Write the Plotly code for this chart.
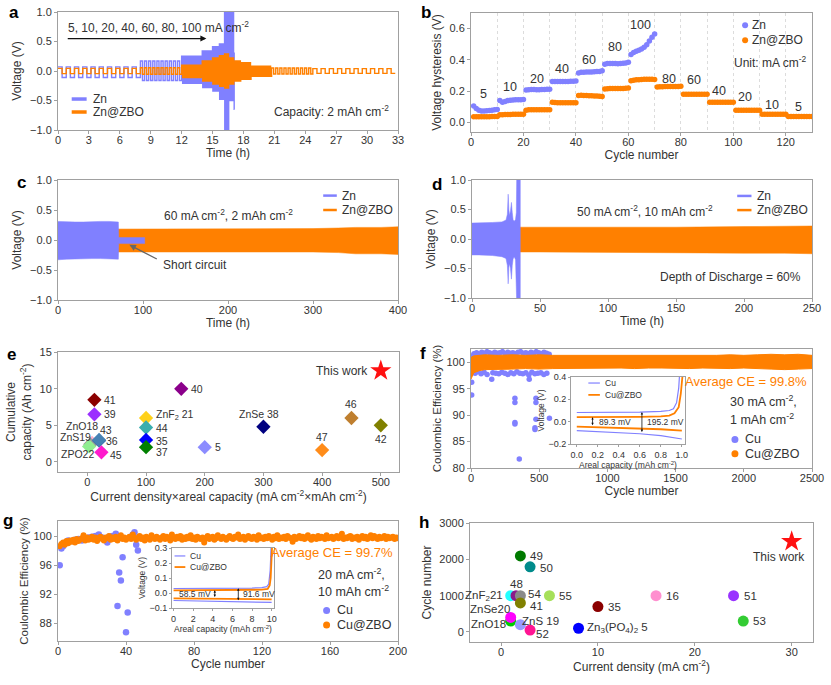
import plotly.graph_objects as go

# ======================= DATA =======================
# (a) rate test of symmetric cells, 2 mAh cm-2, 10 cycles per step
a_currents = [5, 10, 20, 40, 60, 80, 100, 80, 60, 40, 20, 10, 5]        # mA cm-2
a_capacity = 2.0                                                        # mAh cm-2
a_zbo_cycles = [10, 10, 10, 10, 10, 10, 10, 10, 10, 10, 10, 10, 10]
a_zbo_upper = [0.045, 0.055, 0.10, 0.17, 0.22, 0.26, 0.29, 0.22, 0.17, 0.14, 0.08, 0.05, 0.04]
a_zbo_lower = [-0.045, -0.055, -0.11, -0.17, -0.22, -0.26, -0.29, -0.22, -0.17, -0.14, -0.09, -0.05, -0.04]
a_zn_cycles = [10, 10, 10, 10, 10, 10, 10, 10, 1]
a_zn_upper = [0.07, 0.17, 0.25, 0.34, 0.41, 0.46, 1.20, 1.20, 0.30]
a_zn_lower = [-0.11, -0.16, -0.21, -0.28, -0.34, -0.48, -1.05, -0.50, -0.65]

# (b) voltage hysteresis per cycle
b_zn = [0.105, 0.088, 0.078, 0.072, 0.072, 0.074, 0.076, 0.078, 0.080, 0.082,
        0.140, 0.128, 0.134, 0.139, 0.141, 0.143, 0.144, 0.145, 0.145, 0.146,
        0.207, 0.209, 0.210, 0.210, 0.209, 0.209, 0.210, 0.210, 0.211, 0.212,
        0.261, 0.262, 0.262, 0.262, 0.261, 0.262, 0.262, 0.263, 0.263, 0.264,
        0.316, 0.320, 0.321, 0.322, 0.322, 0.323, 0.324, 0.325, 0.326, 0.330,
        0.372, 0.376, 0.377, 0.377, 0.376, 0.375, 0.377, 0.378, 0.380, 0.384,
        0.435, 0.447, 0.455, 0.462, 0.470, 0.480, 0.497, 0.520, 0.545, 0.566]
b_zbo = [0.036, 0.035, 0.035, 0.035, 0.035, 0.036, 0.036, 0.037, 0.037, 0.038,
         0.048, 0.049, 0.050, 0.050, 0.050, 0.051, 0.051, 0.051, 0.052, 0.052,
         0.078, 0.080, 0.080, 0.080, 0.080, 0.080, 0.080, 0.080, 0.081, 0.081,
         0.128, 0.127, 0.126, 0.126, 0.126, 0.126, 0.125, 0.125, 0.125, 0.126,
         0.172, 0.173, 0.172, 0.171, 0.170, 0.170, 0.169, 0.168, 0.167, 0.166,
         0.213, 0.215, 0.216, 0.216, 0.216, 0.216, 0.217, 0.217, 0.218, 0.219,
         0.266, 0.270, 0.272, 0.273, 0.274, 0.275, 0.275, 0.276, 0.276, 0.274,
         0.226, 0.228, 0.228, 0.229, 0.229, 0.229, 0.230, 0.230, 0.230, 0.231,
         0.180, 0.180, 0.179, 0.179, 0.179, 0.179, 0.179, 0.179, 0.179, 0.179,
         0.129, 0.128, 0.128, 0.128, 0.128, 0.128, 0.128, 0.128, 0.128, 0.129,
         0.078, 0.077, 0.077, 0.077, 0.077, 0.077, 0.077, 0.077, 0.077, 0.078,
         0.052, 0.051, 0.051, 0.051, 0.051, 0.051, 0.051, 0.051, 0.051, 0.051,
         0.038, 0.037, 0.037, 0.037, 0.037, 0.037, 0.037, 0.037, 0.037, 0.037]
b_stage_labels = ['5', '10', '20', '40', '60', '80', '100', '80', '60', '40', '20', '10', '5']

# (c) 60 mA cm-2, 2 mAh cm-2 : voltage envelopes
c_zn_t = [0, 10, 20, 30, 40, 50, 60, 71, 71.5, 102]
c_zn_up = [0.31, 0.30, 0.30, 0.30, 0.31, 0.31, 0.31, 0.30, 0.04, 0.04]
c_zn_lo = [-0.33, -0.32, -0.32, -0.31, -0.31, -0.31, -0.31, -0.32, -0.06, -0.06]
c_zbo_t = [0, 50, 100, 150, 200, 250, 300, 330, 350, 380, 400]
c_zbo_up = [0.18, 0.18, 0.18, 0.18, 0.18, 0.185, 0.19, 0.20, 0.21, 0.21, 0.22]
c_zbo_lo = [-0.20, -0.20, -0.20, -0.20, -0.20, -0.20, -0.20, -0.21, -0.23, -0.23, -0.24]

# (d) 50 mA cm-2, 10 mAh cm-2 : voltage envelopes
d_zn_t = [0, 5, 15, 22, 25, 26, 26.6, 27.1, 27.6, 28.3, 29.0, 29.6, 30.2, 31.0, 32.0, 32.6, 32.9, 35.5]
d_zn_up = [0.27, 0.27, 0.28, 0.29, 0.32, 0.42, 0.76, 0.50, 0.40, 0.48, 0.62, 0.45, 0.33, 0.30, 0.33, 0.45, 1.1, 1.1]
d_zn_lo = [-0.27, -0.27, -0.28, -0.30, -0.33, -0.45, -0.76, -0.48, -0.42, -0.50, -0.68, -0.45, -0.34, -0.30, -0.35, -0.55, -1.1, -1.1]
d_zbo_t = [0, 35.5, 50, 100, 150, 200, 230, 250]
d_zbo_up = [0.20, 0.20, 0.19, 0.19, 0.20, 0.21, 0.21, 0.22]
d_zbo_lo = [-0.22, -0.22, -0.22, -0.22, -0.23, -0.24, -0.24, -0.25]

# (e) cumulative capacity comparison
e_labels = ['ZnO18', 'ZnS19', 'ZPO22', '41', '39', '40', 'ZnF<sub>2</sub> 21', '44', '35', '37', '5',
            'ZnSe 38', '46', '42', '47', '36', '43', '45']
e_x = [8, 5, 3, 12, 12, 160, 100, 100, 100, 100, 200, 300, 450, 500, 400, 20, 20, 24]
e_y = [2.6, 2.4, 2.1, 8.5, 6.5, 10.0, 6.0, 4.7, 3.0, 2.0, 2.0, 4.8, 6.0, 5.0, 1.6, 2.9, 3.0, 1.3]
e_this_x = [500]
e_this_y = [12.5]

# (f) Cu||Zn CE at 30 mA cm-2, 1 mAh cm-2
f_cu_cycle = [3, 22, 41, 60, 79, 98, 117, 136, 155, 174, 193, 212, 231, 250, 269, 288, 307, 326, 345, 364,
              383, 402, 421, 440, 459, 478, 497, 516, 535, 554, 573,
              8, 30, 52, 74, 96, 118, 160, 182, 204, 226, 248, 270, 292, 314, 336, 358, 380, 402, 424,
              446, 468, 490, 512, 534, 556,
              5, 5, 152, 322, 322, 322, 322, 354, 427, 476, 476, 476, 469, 469, 575]
f_cu_ce = [101.2, 101.6, 101.8, 101.5, 101.9, 101.7, 102.0, 101.8, 101.6, 101.9, 101.7, 101.8, 102.0, 101.6,
           101.9, 101.7, 101.8, 101.6, 101.9, 102.0, 101.7, 101.8, 101.6, 101.9, 101.7, 102.0, 101.8, 101.6,
           101.9, 101.7, 101.5,
           98.0, 97.9, 98.2, 97.8, 98.1, 97.7, 98.0, 97.9, 97.8, 98.1, 97.9, 97.7, 98.0, 97.8, 98.2, 97.9,
           97.8, 98.0, 97.6, 98.1, 97.8, 97.9, 98.0, 97.7, 97.9,
           96.2, 93.8, 96.8, 93.2, 92.4, 88.6, 88.3, 81.7, 96.8, 93.2, 92.4, 89.2, 87.6, 87.3, 89.4]
f_zbo_cycle = [0, 20, 60, 100, 200, 300, 400, 500, 600, 700, 800, 900, 1000, 1100, 1200, 1300, 1400,
               1500, 1600, 1700, 1800, 1900, 2000, 2100, 2200, 2300, 2400, 2500]
f_zbo_upper = [100.9, 101.2, 101.3, 101.4, 101.3, 101.4, 101.3, 101.4, 101.3, 101.3, 101.2, 101.3, 101.2,
               101.3, 101.2, 101.3, 101.2, 101.3, 101.2, 101.3, 101.3, 101.4, 101.3, 101.4, 101.5, 101.4,
               101.5, 101.3]
f_zbo_lower = [96.8, 98.0, 98.4, 98.6, 98.7, 98.7, 98.8, 98.7, 98.8, 98.9, 98.9, 98.8, 98.9, 98.9, 98.8,
               98.9, 98.9, 98.9, 98.8, 98.9, 98.9, 98.8, 98.9, 98.8, 98.7, 98.6, 98.7, 98.8]
# (f) inset: voltage profiles
fi_cu_chg_x = [0, 0.2, 0.4, 0.6, 0.8, 0.88, 0.92, 0.95, 0.97, 0.98]
fi_cu_chg_y = [0.082, 0.082, 0.083, 0.086, 0.092, 0.10, 0.115, 0.17, 0.30, 0.45]
fi_cu_dis_x = [0, 0.2, 0.4, 0.6, 0.8, 1.0]
fi_cu_dis_y = [-0.080, -0.088, -0.097, -0.108, -0.125, -0.155]
fi_zbo_chg_x = [0, 0.2, 0.4, 0.6, 0.8, 0.88, 0.93, 0.97, 0.99, 1.0, 1.01]
fi_zbo_chg_y = [0.040, 0.040, 0.041, 0.043, 0.047, 0.055, 0.075, 0.13, 0.25, 0.35, 0.45]
fi_zbo_dis_x = [0, 0.2, 0.4, 0.6, 0.8, 1.0]
fi_zbo_dis_y = [-0.045, -0.050, -0.055, -0.060, -0.068, -0.080]

# (g) Cu||Zn CE at 20 mA cm-2, 10 mAh cm-2
g_cu_cycle = [1, 2, 3, 4, 5, 6, 8, 10, 12, 14, 16, 18, 20, 22, 24, 26, 28, 29, 30, 32, 34,
              35, 36, 37, 38, 40, 41, 43, 44, 45, 46, 47]
g_cu_ce = [96.0, 98.3, 98.6, 99.0, 99.2, 99.4, 99.3, 99.5, 99.6, 99.4, 99.7, 99.8, 99.9, 100.0, 100.2,
           99.8, 99.6, 99.1, 99.9, 100.0, 100.3,
           90.4, 95.0, 93.9, 97.1, 86.8, 89.5, 99.9, 100.2, 100.5, 98.8, 98.0]
g_zbo_ce = [98.6, 98.9, 99.1, 98.8, 99.3, 99.0, 99.4, 99.2, 99.5, 99.1, 99.6, 99.3, 99.5, 99.7, 100.1, 99.4, 99.8, 99.5, 99.6, 99.9,
            99.5, 99.8, 99.3, 99.7, 99.9, 99.6, 99.4, 99.8, 99.7, 100.0, 99.5, 99.8, 99.6, 99.9, 99.4, 99.7, 100.1, 99.6, 99.8, 99.5,
            99.7, 99.9, 99.6, 100.2, 99.8, 99.5, 99.7, 100.0, 99.6, 99.8, 99.4, 99.9, 99.7, 99.5, 100.1, 99.8, 99.6, 99.9, 99.7, 99.5,
            99.8, 100.0, 99.6, 99.9, 99.7, 99.4, 100.2, 99.8, 99.6, 99.9, 99.7, 100.0, 99.5, 99.8, 99.6, 99.9, 99.7, 100.1, 99.6, 99.8,
            99.5, 99.9, 99.7, 99.6, 99.8, 99.1, 99.7, 100.0, 99.6, 99.8, 99.9, 99.5, 99.7, 100.1, 99.8, 99.6, 99.9, 99.7, 99.5, 99.8,
            100.0, 99.7, 99.6, 99.9, 99.8, 100.2, 99.6, 99.7, 99.9, 99.5, 99.8, 100.0, 99.7, 99.6, 99.9, 99.8, 99.5, 100.1, 99.7, 99.8,
            99.6, 99.9, 99.7, 100.0, 99.8, 99.5, 99.9, 99.7, 100.1, 99.6, 99.8, 99.7, 99.9, 99.6, 100.0, 99.8, 99.7, 99.2, 99.9, 99.6,
            99.8, 100.0, 99.7, 99.9, 99.6, 99.8, 100.1, 99.7, 99.5, 99.9, 99.8, 99.6, 100.0, 99.7, 99.9, 99.8, 99.6, 100.1, 99.7, 99.8,
            99.9, 99.6, 99.8, 100.0, 99.7, 99.9, 100.3, 99.6, 99.8, 99.7, 99.9, 100.0, 99.6, 99.8, 99.7, 99.9, 99.5, 99.8, 100.0, 99.7,
            99.9, 99.6, 99.8, 100.1, 99.7, 100.0, 99.8, 99.6, 99.9, 99.7, 99.8, 100.0, 99.6, 99.9, 99.7, 99.8, 99.9, 99.6, 99.8, 99.7]
# (g) inset: voltage profiles
gi_cu_chg_x = [0, 1, 2, 4, 6, 8, 9, 9.5, 9.7, 9.85, 9.95]
gi_cu_chg_y = [0.030, 0.030, 0.030, 0.030, 0.031, 0.033, 0.036, 0.042, 0.060, 0.15, 0.32]
gi_zbo_chg_x = [0, 2, 4, 6, 8, 9, 9.6, 9.8, 9.9, 10.0, 10.05]
gi_zbo_chg_y = [0.018, 0.018, 0.018, 0.019, 0.020, 0.022, 0.028, 0.05, 0.10, 0.22, 0.32]
gi_cu_dis_x = [0, 2, 4, 6, 8, 10]
gi_cu_dis_y = [-0.050, -0.053, -0.055, -0.058, -0.060, -0.063]
gi_zbo_dis_x = [0, 2, 4, 6, 8, 10]
gi_zbo_dis_y = [-0.036, -0.037, -0.038, -0.039, -0.040, -0.042]

# (h) cycle number vs current density comparison
h_labels = ['49', '50', 'ZnF<sub>2</sub>21', '48', '54', '41', '55', '35', '16', '51', '53',
            'ZnO18', 'ZnSe20', 'ZnS 19', '52', 'Zn<sub>3</sub>(PO<sub>4</sub>)<sub>2</sub> 5']
h_x = [2, 3, 1, 1.55, 2, 2, 5, 10, 16, 24, 25, 1, 1, 2, 3, 8]
h_y = [2100, 1800, 1000, 1000, 1000, 800, 1000, 700, 1000, 1000, 300, 300, 400, 200, 50, 100]
h_this_x = [30]
h_this_y = [2500]

# ======================= STYLE / LAYOUT =======================
W, H = 831, 685
BLUE = '#8080ff'
ORANGE = '#ff8000'
FONT = 'Liberation Sans, Arial, sans-serif'
TXT = '#333333'
FRAME = '#a0a0a0'

e_colors = ['#ffb0c8', '#9a9a9a', '#90ee90', '#8b0000', '#9b30ff', '#8b008b', '#ffd11a', '#3aaeae',
            '#0000ff', '#008000', '#8c8cff', '#000080', '#bf7f2f', '#808000', '#ff8c1a', '#3a6ea5',
            '#4682b4', '#ff1acd']
e_label_pos = [('center', -10, 17), ('center', -15, 7), ('center', -12, -8), ('left', 8, 0), ('left', 8, 0),
               ('left', 8, 0), ('left', 8, 3), ('left', 8, 0), ('left', 8, -1), ('left', 8, -5),
               ('left', 8, 0), ('center', -4, 13), ('center', 0, 14), ('center', 0, -14),
               ('center', 0, 13), ('left', 5, 0), ('center', 7, 10), ('left', 7, -3)]
h_colors = ['#007a00', '#008b8b', '#22ffff', '#8b1a8b', '#8a8a8a', '#808000', '#a6e05a', '#8b0000',
            '#ff8fcf', '#9933ff', '#33cc33', '#00cc00', '#ff00ff', '#9999ff', '#ff1493', '#0000ff']
h_label_pos = [('left', 8, 0), ('left', 8, -1), ('right', -6, 0), ('center', 0, 12), ('left', 6, 2),
               ('left', 8, -3), ('left', 8, 0), ('left', 8, 0), ('left', 8, 0), ('left', 8, 0),
               ('left', 8, 0), ('center', -22, -3), ('center', -21, 8), ('center', 20, 4),
               ('center', 12, -4), ('left', 6, 0)]


def dx(l, r):
    return [l / W, r / W]


def dy(t, b):
    return [1 - b / H, 1 - t / H]


def axis(domain, rng, dtick, anchor, title=None, fmt=None, fs=11, tfs=12, tl=3, standoff=None,
         lstand=0, **kw):
    d = dict(domain=domain, range=rng, dtick=dtick, tick0=0, anchor=anchor,
             showline=True, mirror=True, linecolor=FRAME, linewidth=1,
             ticks='outside', ticklen=tl, tickcolor=FRAME, tickwidth=1,
             tickfont=dict(size=fs, color=TXT, family=FONT),
             ticklabelstandoff=lstand,
             showgrid=False, zeroline=False, automargin=False)
    if title:
        t = dict(text=title, font=dict(size=tfs, color=TXT, family=FONT))
        if standoff is not None:
            t['standoff'] = standoff
        d['title'] = t
    if fmt:
        d['tickformat'] = fmt
    d.update(kw)
    return d


def xax(*a, **k):
    k.setdefault('standoff', 3)
    k.setdefault('lstand', -3)
    return axis(*a, **k)


def yax(*a, **k):
    k.setdefault('standoff', 5)
    return axis(*a, **k)


def square_wave(currents, cycles, upper, lower, capacity):
    t, v = [], []
    t0 = 0.0
    for cur, n, up, lo in zip(currents, cycles, upper, lower):
        half = capacity / cur
        for k in range(2 * n):
            t.append(t0 + k * half)
            v.append(up if k % 2 == 0 else lo)
        t0 += 2 * n * half
    t.append(t0)
    v.append(v[-1])
    return t, v


def band(t, up, lo):
    return list(t) + list(t)[::-1], list(up) + list(lo)[::-1]


fig = go.Figure()
annos = []
shapes = []


def txt(text, x, y, xref, yref, size=12, color=TXT, xanchor='center', yanchor='middle', xshift=0, yshift=0):
    annos.append(dict(text=text, x=x, y=y, xref=xref, yref=yref, showarrow=False,
                      font=dict(size=size, color=color, family=FONT),
                      xanchor=xanchor, yanchor=yanchor, xshift=xshift, yshift=yshift))


def leg_line(x0, x1, y, xr, yr, color, width):
    shapes.append(dict(type='line', xref=xr, yref=yr, x0=x0, x1=x1, y0=y, y1=y,
                       line=dict(color=color, width=width)))


def leg_dot(x, y, xr, yr, color, r=3):
    shapes.append(dict(type='circle', xref=xr, yref=yr, xsizemode='pixel', ysizemode='pixel',
                       xanchor=x, yanchor=y, x0=-r, x1=r, y0=-r, y1=r,
                       fillcolor=color, line=dict(width=0)))


# ---------- (a) ----------
ta, va = square_wave(a_currents[:len(a_zn_cycles)], a_zn_cycles, a_zn_upper, a_zn_lower, a_capacity)
fig.add_trace(go.Scatter(x=ta, y=va, mode='lines', line=dict(color=BLUE, width=1.4, shape='hv'),
                         xaxis='x', yaxis='y', showlegend=False))
ta, va = square_wave(a_currents, a_zbo_cycles, a_zbo_upper, a_zbo_lower, a_capacity)
fig.add_trace(go.Scatter(x=ta, y=va, mode='lines', line=dict(color=ORANGE, width=1.4, shape='hv'),
                         xaxis='x', yaxis='y', showlegend=False))
annos.append(dict(x=14.4, y=0.55, ax=0.8, ay=0.55, xref='x', yref='y', axref='x', ayref='y',
                  showarrow=True, arrowhead=2, arrowsize=1, arrowwidth=1.2, arrowcolor='#111', text=''))
txt('5, 10, 20, 40, 60, 80, 100 mA cm<sup>-2</sup>', 0.8, 0.74, 'x', 'y', xanchor='left')
txt('Capacity: 2 mAh cm<sup>-2</sup>', 32.3, -0.68, 'x', 'y', xanchor='right')
leg_line(1.33, 2.78, -0.475, 'x', 'y', BLUE, 3.5)
leg_line(1.33, 2.78, -0.695, 'x', 'y', ORANGE, 3.5)
txt('Zn', 3.2, -0.475, 'x', 'y', xanchor='left')
txt('Zn@ZBO', 3.2, -0.695, 'x', 'y', xanchor='left')

# ---------- (b) ----------
fig.add_trace(go.Scatter(x=list(range(1, len(b_zn) + 1)), y=b_zn, mode='markers',
                         marker=dict(color=BLUE, size=5.5), xaxis='x2', yaxis='y2', showlegend=False))
fig.add_trace(go.Scatter(x=list(range(1, len(b_zbo) + 1)), y=b_zbo, mode='markers',
                         marker=dict(color=ORANGE, size=5.5), xaxis='x2', yaxis='y2', showlegend=False))
b_label_xy = [(4.7, 0.18), (14.9, 0.225), (25, 0.28), (34.8, 0.34), (44.8, 0.40), (55, 0.48), (64.8, 0.62),
              (75.3, 0.275), (85, 0.27), (94.5, 0.20), (104.6, 0.16), (114.8, 0.11), (125, 0.10)]
for lab, (lx, ly) in zip(b_stage_labels, b_label_xy):
    txt(lab, lx, ly, 'x2', 'y2', size=12.5)
leg_dot(104.5, 0.621, 'x2', 'y2', BLUE)
leg_dot(104.5, 0.525, 'x2', 'y2', ORANGE)
txt('Zn', 106.5, 0.621, 'x2', 'y2', xanchor='left')
txt('Zn@ZBO', 106.5, 0.525, 'x2', 'y2', xanchor='left')
txt('Unit: mA cm<sup>-2</sup>', 99.5, 0.386, 'x2', 'y2', xanchor='left')

# ---------- (c) ----------
bx, by = band(c_zbo_t, c_zbo_up, c_zbo_lo)
fig.add_trace(go.Scatter(x=bx, y=by, fill='toself', fillcolor=ORANGE, mode='lines',
                         line=dict(color=ORANGE, width=0.5), xaxis='x3', yaxis='y3', showlegend=False))
bx, by = band(c_zn_t, c_zn_up, c_zn_lo)
fig.add_trace(go.Scatter(x=bx, y=by, fill='toself', fillcolor=BLUE, mode='lines',
                         line=dict(color=BLUE, width=0.5), xaxis='x3', yaxis='y3', showlegend=False))
txt('60 mA cm<sup>-2</sup>, 2 mAh cm<sup>-2</sup>', 200, 0.42, 'x3', 'y3')
txt('Short circuit', 121, -0.42, 'x3', 'y3', xanchor='left')
annos.append(dict(x=84, y=-0.08, ax=118, ay=-0.33, xref='x3', yref='y3', axref='x3', ayref='y3',
                  showarrow=True, arrowhead=2, arrowsize=1, arrowwidth=1.3, arrowcolor='#666', text=''))
leg_line(312, 328, 0.74, 'x3', 'y3', BLUE, 2.5)
leg_line(312, 328, 0.50, 'x3', 'y3', ORANGE, 2.5)
txt('Zn', 332, 0.74, 'x3', 'y3', xanchor='left')
txt('Zn@ZBO', 332, 0.50, 'x3', 'y3', xanchor='left')

# ---------- (d) ----------
bx, by = band(d_zbo_t, d_zbo_up, d_zbo_lo)
fig.add_trace(go.Scatter(x=bx, y=by, fill='toself', fillcolor=ORANGE, mode='lines',
                         line=dict(color=ORANGE, width=0.5), xaxis='x4', yaxis='y4', showlegend=False))
bx, by = band(d_zn_t, d_zn_up, d_zn_lo)
fig.add_trace(go.Scatter(x=bx, y=by, fill='toself', fillcolor=BLUE, mode='lines',
                         line=dict(color=BLUE, width=0.5), xaxis='x4', yaxis='y4', showlegend=False))
txt('50 mA cm<sup>-2</sup>, 10 mAh cm<sup>-2</sup>', 127, 0.47, 'x4', 'y4')
txt('Depth of Discharge = 60%', 243.5, -0.64, 'x4', 'y4', xanchor='right')
leg_line(195, 205.5, 0.73, 'x4', 'y4', BLUE, 2.5)
leg_line(195, 205.5, 0.49, 'x4', 'y4', ORANGE, 2.5)
txt('Zn', 208, 0.73, 'x4', 'y4', xanchor='left')
txt('Zn@ZBO', 208, 0.49, 'x4', 'y4', xanchor='left')

# ---------- (e) ----------
fig.add_trace(go.Scatter(x=e_x, y=e_y, mode='markers',
                         marker=dict(symbol='diamond', size=11, color=e_colors, line=dict(width=0)),
                         xaxis='x5', yaxis='y5', showlegend=False))
fig.add_trace(go.Scatter(x=e_this_x, y=e_this_y, mode='markers',
                         marker=dict(symbol='star', size=16, color='#ff1010', line=dict(width=0)),
                         xaxis='x5', yaxis='y5', showlegend=False))
for lab, xx, yy, (xa, xs, ys) in zip(e_labels, e_x, e_y, e_label_pos):
    txt(lab, xx, yy, 'x5', 'y5', size=10.5, xanchor=xa, xshift=xs, yshift=ys)
txt('This work', e_this_x[0], e_this_y[0], 'x5', 'y5', size=12, xanchor='right', xshift=-11)

# ---------- (f) ----------
fig.add_trace(go.Scatter(x=f_cu_cycle, y=f_cu_ce, mode='markers', marker=dict(color=BLUE, size=5.5),
                         xaxis='x6', yaxis='y6', showlegend=False, cliponaxis=True))
bx, by = band(f_zbo_cycle, f_zbo_upper, f_zbo_lower)
fig.add_trace(go.Scatter(x=bx, y=by, fill='toself', fillcolor=ORANGE, mode='lines',
                         line=dict(color=ORANGE, width=1), xaxis='x6', yaxis='y6', showlegend=False))
txt('Average CE = 99.8%', 2475, 96.3, 'x6', 'y6', size=13, color=ORANGE, xanchor='right')
txt('30 mA cm<sup>-2</sup>,', 1884, 92.6, 'x6', 'y6', size=12.5, xanchor='left')
txt('1 mAh cm<sup>-2</sup>', 1884, 89.2, 'x6', 'y6', size=12.5, xanchor='left')
leg_dot(1935, 85.4, 'x6', 'y6', BLUE, 3.5)
leg_dot(1935, 82.7, 'x6', 'y6', ORANGE, 3.5)
txt('Cu', 1995, 85.4, 'x6', 'y6', size=12.5, xanchor='left')
txt('Cu@ZBO', 1995, 82.7, 'x6', 'y6', size=12.5, xanchor='left')

# (f) inset
for xs_, ys_, col, wd in [(fi_cu_chg_x, fi_cu_chg_y, BLUE, 1.2), (fi_cu_dis_x, fi_cu_dis_y, BLUE, 1.2),
                          (fi_zbo_chg_x, fi_zbo_chg_y, ORANGE, 1.8), (fi_zbo_dis_x, fi_zbo_dis_y, ORANGE, 1.8)]:
    fig.add_trace(go.Scatter(x=xs_, y=ys_, mode='lines', line=dict(color=col, width=wd),
                             xaxis='x9', yaxis='y9', showlegend=False))
leg_line(0.11, 0.22, 0.346, 'x9', 'y9', BLUE, 1.2)
leg_line(0.11, 0.22, 0.24, 'x9', 'y9', ORANGE, 1.8)
txt('Cu', 0.25, 0.346, 'x9', 'y9', size=8.5, xanchor='left')
txt('Cu@ZBO', 0.25, 0.24, 'x9', 'y9', size=8.5, xanchor='left')
for xa_, y0_, y1_ in [(0.15, 0.040, -0.045), (0.62, 0.085, -0.105)]:
    annos.append(dict(x=xa_, y=y0_, ax=xa_, ay=y1_, xref='x9', yref='y9', axref='x9', ayref='y9',
                      showarrow=True, arrowhead=2, arrowside='end+start', arrowsize=0.6, arrowwidth=0.8,
                      arrowcolor='#111', text=''))
txt('89.3 mV', 0.19, -0.002, 'x9', 'y9', size=8.5, xanchor='left')
txt('195.2 mV', 0.65, -0.002, 'x9', 'y9', size=8.5, xanchor='left')

# ---------- (g) ----------
fig.add_trace(go.Scatter(x=g_cu_cycle, y=g_cu_ce, mode='markers', marker=dict(color=BLUE, size=6.5),
                         xaxis='x7', yaxis='y7', showlegend=False))
fig.add_trace(go.Scatter(x=list(range(1, len(g_zbo_ce) + 1)), y=g_zbo_ce, mode='markers',
                         marker=dict(color=ORANGE, size=6), xaxis='x7', yaxis='y7', showlegend=False))
txt('Average CE = 99.7%', 198.5, 97.7, 'x7', 'y7', size=13, color=ORANGE, xanchor='right')
txt('20 mA cm<sup>-2</sup>,', 152, 94.8, 'x7', 'y7', size=12.5, xanchor='left')
txt('10 mAh cm<sup>-2</sup>', 152, 92.4, 'x7', 'y7', size=12.5, xanchor='left')
leg_dot(158, 89.8, 'x7', 'y7', BLUE, 3.5)
leg_dot(158, 87.8, 'x7', 'y7', ORANGE, 3.5)
txt('Cu', 163, 89.8, 'x7', 'y7', size=12.5, xanchor='left')
txt('Cu@ZBO', 163, 87.8, 'x7', 'y7', size=12.5, xanchor='left')

# (g) inset
for xs_, ys_, col, wd in [(gi_cu_chg_x, gi_cu_chg_y, BLUE, 1.2), (gi_cu_dis_x, gi_cu_dis_y, BLUE, 1.2),
                          (gi_zbo_chg_x, gi_zbo_chg_y, ORANGE, 1.8), (gi_zbo_dis_x, gi_zbo_dis_y, ORANGE, 1.8)]:
    fig.add_trace(go.Scatter(x=xs_, y=ys_, mode='lines', line=dict(color=col, width=wd),
                             xaxis='x10', yaxis='y10', showlegend=False))
leg_line(0.1, 1.2, 0.247, 'x10', 'y10', BLUE, 1.2)
leg_line(0.1, 1.2, 0.173, 'x10', 'y10', ORANGE, 1.8)
txt('Cu', 1.5, 0.247, 'x10', 'y10', size=8.5, xanchor='left')
txt('Cu@ZBO', 1.5, 0.173, 'x10', 'y10', size=8.5, xanchor='left')
for xa_, y0_, y1_ in [(4.2, 0.018, -0.036), (6.6, 0.031, -0.058)]:
    annos.append(dict(x=xa_, y=y0_, ax=xa_, ay=y1_, xref='x10', yref='y10', axref='x10', ayref='y10',
                      showarrow=True, arrowhead=2, arrowside='end+start', arrowsize=0.6, arrowwidth=0.8,
                      arrowcolor='#111', text=''))
txt('58.5 mV', 0.3, -0.009, 'x10', 'y10', size=8.5, xanchor='left')
txt('91.6 mV', 6.9, -0.009, 'x10', 'y10', size=8.5, xanchor='left')

# ---------- (h) ----------
fig.add_trace(go.Scatter(x=h_x, y=h_y, mode='markers',
                         marker=dict(symbol='circle', size=11, color=h_colors, line=dict(width=0)),
                         xaxis='x8', yaxis='y8', showlegend=False))
fig.add_trace(go.Scatter(x=h_this_x, y=h_this_y, mode='markers',
                         marker=dict(symbol='star', size=16, color='#ff1010', line=dict(width=0)),
                         xaxis='x8', yaxis='y8', showlegend=False))
for lab, xx, yy, (xa, xs, ys) in zip(h_labels, h_x, h_y, h_label_pos):
    txt(lab, xx, yy, 'x8', 'y8', size=11.5, xanchor=xa, xshift=xs, yshift=ys)
txt('This work', h_this_x[0], h_this_y[0], 'x8', 'y8', size=12, xshift=-13, yshift=-16)

# ---------- panel letters ----------
for lab, px, py in [('a', 7, 1), ('b', 419, 1), ('c', 15, 171), ('d', 430, 173),
                    ('e', 5, 343), ('f', 418, 342), ('g', 1, 509), ('h', 417, 511)]:
    annos.append(dict(text='<b>%s</b>' % lab, x=px / W, y=1 - py / H, xref='paper', yref='paper',
                      showarrow=False, xanchor='left', yanchor='top',
                      font=dict(size=17, color='#000', family=FONT)))

VT = 'Voltage (V)'
INS = dict(fs=9, tfs=8.5, tl=2, standoff=2, lstand=0)
layout = dict(
    width=W, height=H, margin=dict(l=0, r=0, t=0, b=0),
    paper_bgcolor='white', plot_bgcolor='white', showlegend=False,
    font=dict(family=FONT, color=TXT),
    xaxis=xax(dx(58, 398), [0, 33], 3, 'y', 'Time (h)'),
    yaxis=yax(dy(12, 130), [-1, 1], 0.5, 'x', VT, fmt='.1f'),
    xaxis2=xax(dx(471, 812), [0, 130], 20, 'y2', 'Cycle number', showgrid=True, gridcolor='#dcdcdc',
               griddash='dot', gridwidth=1,
               minor=dict(dtick=10, showgrid=True, gridcolor='#dcdcdc', griddash='dot', ticks='')),
    yaxis2=yax(dy(13, 132), [-0.062, 0.7], 0.2, 'x2', 'Voltage hysteresis (V)', fmt='.1f'),
    xaxis3=xax(dx(58, 398), [0, 400], 100, 'y3', 'Time (h)'),
    yaxis3=yax(dy(180, 300), [-1, 1], 0.5, 'x3', VT, fmt='.1f'),
    xaxis4=xax(dx(472, 812), [0, 250], 50, 'y4', 'Time (h)'),
    yaxis4=yax(dy(180, 298), [-1, 1], 0.5, 'x4', VT, fmt='.1f'),
    xaxis5=xax(dx(58, 399), [-50, 531], 100, 'y5',
               'Current density\u00d7areal capacity (mA cm<sup>-2</sup>\u00d7mAh cm<sup>-2</sup>)'),
    yaxis5=yax(dy(352, 472), [-1.4, 15.05], 5, 'x5', 'Cumulative<br>capacity (Ah cm<sup>-2</sup>)'),
    xaxis6=xax(dx(471, 812), [0, 2500], 500, 'y6', 'Cycle number'),
    yaxis6=yax(dy(349, 468), [80, 102.5], 5, 'x6', 'Coulombic Efficiency (%)', tfs=11.5, standoff=2),
    xaxis7=xax(dx(58, 398), [0, 200], 40, 'y7', 'Cycle number'),
    yaxis7=yax(dy(521, 641), [85.6, 102.06], 4, 'x7', 'Coulombic Efficiency (%)', tick0=88,
               tfs=11.5, standoff=2),
    xaxis8=xax(dx(470, 813), [-3.2, 32.2], 10, 'y8', 'Current density (mA cm<sup>-2</sup>)'),
    yaxis8=yax(dy(523, 642), [-280, 3010], 1000, 'x8', 'Cycle number'),
    xaxis9=axis(dx(571, 685), [-0.055, 1.03], 0.2, 'y9', 'Areal capacity (mAh cm<sup>-2</sup>)', fmt='.1f',
                **INS),
    yaxis9=axis(dy(377, 444), [-0.2, 0.4], 0.2, 'x9', VT, fmt='.1f', **INS),
    xaxis10=axis(dx(172, 274), [-0.16, 10.24], 2, 'y10', 'Areal capacity (mAh cm<sup>-2</sup>)', **INS),
    yaxis10=axis(dy(548, 608), [-0.1, 0.3], 0.1, 'x10', VT, fmt='.1f', **INS),
    annotations=annos, shapes=shapes,
)
fig.update_layout(**layout)
fig.write_html("out.html", config={'displayModeBar': False},
               post_script="document.body.style.margin='0';")
